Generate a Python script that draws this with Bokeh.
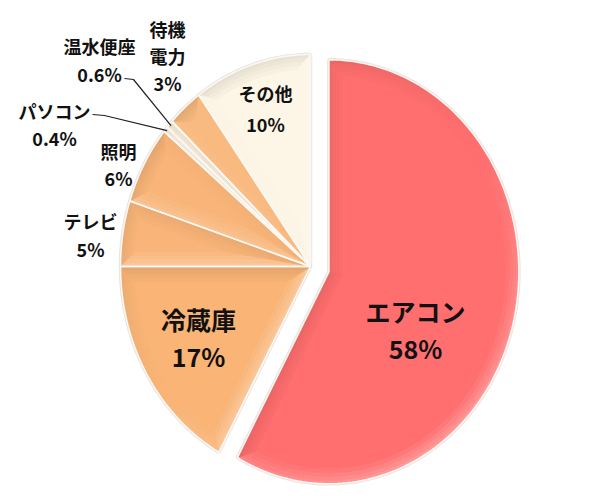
import math
import numpy as np
from bokeh.plotting import figure
from bokeh.models import Range1d, ColumnDataSource
from bokeh.embed import file_html
from bokeh.resources import INLINE
from bokeh.core.properties import value

# ---- data -------------------------------------------------------------
categories = ["エアコン", "冷蔵庫", "テレビ", "照明", "パソコン", "温水便座", "待機電力", "その他"]
shares = [58, 17, 5, 6, 0.4, 0.6, 3, 10]
name_lines = [["エアコン"], ["冷蔵庫"], ["テレビ"], ["照明"], ["パソコン"], ["温水便座"], ["待機", "電力"], ["その他"]]
colors = ["#FF6F6F", "#F9B476", "#F9B579", "#F9B579", "#F3E8D8", "#F1E4D2", "#F9BA80", "#FDF6E6"]
exploded = [0.10, 0, 0, 0, 0, 0, 0, 0]

# ---- layout -----------------------------------------------------------
W, H = 605, 498
CX, CY = 310.0, 266.0     # pie centre (pixel space, y down)
RX, RY = 190.0, 212.0     # radii
BEVEL = 0.07              # bevel width as fraction of radius
BANDS = 4                 # bevel is drawn as bands fading toward the flat top
LIGHT = np.array([-0.55, -0.83])  # light from the upper left (screen coords)

# label anchors: (x, y of first line, line spacing, font size)
label_layout = {
    "エアコン": (415, 310, 37, "25px"),
    "冷蔵庫": (198, 318, 37, "25px"),
    "テレビ": (90, 220, 28, "18px"),
    "照明": (118, 150, 27, "18px"),
    "パソコン": (54, 110, 27, "18px"),
    "温水便座": (99, 45, 28, "18px"),
    "待機電力": (167, 28, 27, "18px"),
    "その他": (265, 92, 31, "18px"),
}
# leader line start / elbow for the thin slices
leaders = {
    "パソコン": [(92, 114), (104, 115)],
    "温水便座": [(124, 78), (133, 79)],
}


def to_screen(theta_deg, r, ox=0.0, oy=0.0):
    t = np.radians(theta_deg)
    return CX + ox + r * RX * np.sin(t), CY + oy - r * RY * np.cos(t)


def hex_rgb(h):
    h = h.lstrip("#")
    return np.array([int(h[i:i + 2], 16) for i in (0, 2, 4)], dtype=float)


def shade(base, s):
    rgb = hex_rgb(base)
    if s >= 0:
        rgb = rgb + (255 - rgb) * 0.30 * s
    else:
        rgb = rgb * (1 + 0.09 * s)
    r, g, b = np.clip(rgb, 0, 255).astype(int)
    return f"#{r:02x}{g:02x}{b:02x}"


def inset_outline(th, a0, a1, d, ox, oy):
    """Slice outline moved inward by depth d (fraction of radius)."""
    mid = (a0 + a1) / 2
    span = a1 - a0
    if d <= 0:
        ax, ay = to_screen(th, 1.0, ox, oy)
        return [(CX + ox, CY + oy)] + list(zip(ax, ay))
    half = math.radians(span / 2)
    rin = 1 - d
    e = math.degrees(math.asin(min(1.0, d / rin)))
    th_in = np.clip(th, a0 + e, a1 - e) if 2 * e < span else np.full_like(th, mid)
    ix, iy = to_screen(th_in, rin, ox, oy)
    dv = min(d / max(math.sin(half), 1e-6), 0.55 * d / BEVEL)
    qx, qy = to_screen(mid, dv, ox, oy)
    return [(qx, qy)] + list(zip(ix, iy))


facet_xs, facet_ys, facet_col = [], [], []
out_xs, out_ys, body_col = [], [], []
slice_geom = {}

total = sum(shares)
start = 0.0
for cat, v, col, ex in zip(categories, shares, colors, exploded):
    span = 360.0 * v / total
    a0, a1 = start, start + span
    mid = (a0 + a1) / 2
    start = a1
    ox = ex * RX * math.sin(math.radians(mid))
    oy = -ex * RY * math.cos(math.radians(mid))
    slice_geom[cat] = (a0, a1, ox, oy)

    n = max(2, int(math.ceil(span / 1.5)))
    th = np.linspace(a0, a1, n + 1)
    outer = inset_outline(th, a0, a1, 0.0, ox, oy)
    m = len(outer)
    # edge normals from the outer outline (clockwise in screen space)
    svals = []
    for i in range(m):
        p0, q0 = outer[i], outer[(i + 1) % m]
        ex_, ey_ = q0[0] - p0[0], q0[1] - p0[1]
        ln = math.hypot(ex_, ey_) or 1.0
        svals.append(float(np.array([-ey_ / ln, ex_ / ln]) @ LIGHT))

    rings = [inset_outline(th, a0, a1, BEVEL * j / BANDS, ox, oy) for j in range(BANDS + 1)]
    for j in range(BANDS):
        o_ring, i_ring = rings[j], rings[j + 1]
        fade = 1.0 - j / BANDS
        for i in range(m):
            p0, q0 = o_ring[i], o_ring[(i + 1) % m]
            pi, qi = i_ring[i], i_ring[(i + 1) % m]
            facet_xs.append([p0[0], q0[0], qi[0], pi[0]])
            facet_ys.append([p0[1], q0[1], qi[1], pi[1]])
            facet_col.append(shade(col, svals[i] * fade))
    out_xs.append([q[0] for q in outer])
    out_ys.append([q[1] for q in outer])
    body_col.append(col)

p = figure(width=W, height=H, x_range=Range1d(0, W), y_range=Range1d(H, 0),
           output_backend="svg", toolbar_location=None, min_border=0)
p.axis.visible = False
p.grid.visible = False
p.outline_line_color = None
p.background_fill_color = "white"
p.border_fill_color = "white"

# soft outer edge
p.patches(out_xs, out_ys, fill_color=None, line_color="#CFCBC6", line_width=3.5, line_alpha=0.5)
# slice bodies
p.patches(out_xs, out_ys, fill_color=body_col, line_color=None)
# bevel facets
fs = ColumnDataSource(dict(xs=facet_xs, ys=facet_ys, c=facet_col))
p.patches("xs", "ys", source=fs, fill_color="c", line_color="c", line_width=0.6)
# light rim
p.patches(out_xs, out_ys, fill_color=None, line_color="#FBF8F4", line_width=1.6)

# leader lines for the thin slices
for cat, pts in leaders.items():
    a0, a1, ox, oy = slice_geom[cat]
    ex_, ey_ = to_screen((a0 + a1) / 2, 0.99, ox, oy)
    xs = [q[0] for q in pts] + [float(ex_)]
    ys = [q[1] for q in pts] + [float(ey_)]
    p.line(xs, ys, line_color="#222222", line_width=1.2)

# labels
tx, ty, tt, tf = [], [], [], []
for cat, v, lines in zip(categories, shares, name_lines):
    x0, y0, dy, fsz = label_layout[cat]
    for k, txt in enumerate(lines + [f"{v:g}%"]):
        tx.append(x0)
        ty.append(y0 + k * dy)
        tt.append(txt)
        tf.append(fsz)
ts = ColumnDataSource(dict(x=tx, y=ty, t=tt, f=tf))
p.text("x", "y", text="t", source=ts, text_font=value("Noto Sans CJK JP"),
       text_font_size="f", text_font_style="bold", text_color="#111111",
       text_align="center", text_baseline="middle")

open("out.html", "w").write(file_html(p, INLINE))
